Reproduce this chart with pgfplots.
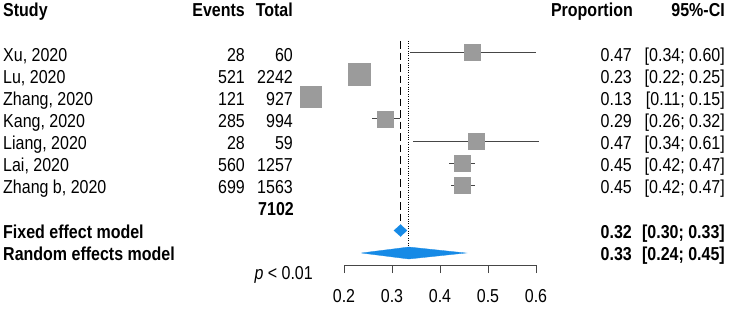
\documentclass[border=0pt]{standalone}
\usepackage{fontspec}
\setmainfont{Liberation Sans}
\usepackage{graphicx}
\usepackage{pgfplots}
\pgfplotsset{compat=1.18}
\usepackage{pgfplotstable}
\definecolor{sqgray}{RGB}{155,155,155}
\definecolor{cigray}{RGB}{70,70,70}
\definecolor{diamblue}{RGB}{22,138,230}
\newcommand\fs{\fontsize{16}{19}\selectfont}
\newcommand\st[1]{\scalebox{1}[1.17]{#1}}
\newcommand\txt[4]{\node[inner sep=0pt, anchor=base #1, font=\fs] at (#2pt,{(300.3-#3)*1pt}) {\st{#4}};}

% study: proportion, CI low, CI high, y (row), square half-size
\pgfplotstableread{
p      lo     hi     y      s
0.4667 0.337  0.599  256.5  8
0.2324 0.215  0.250  234.4  11
0.1305 0.109  0.153  212.3  10.5
0.2867 0.259  0.316  190.2  8
0.4746 0.343  0.607  168.1  8
0.4455 0.418  0.473  146.0  8
0.4472 0.422  0.472  123.9  8
}\studies

\begin{document}
\begin{tikzpicture}
\useasboundingbox (0,0) rectangle (731pt,309pt);
\begin{axis}[
  at={(344pt,44pt)}, anchor=south west,
  scale only axis, width=192pt, height=265pt,
  xmin=0.2, xmax=0.6, ymin=44, ymax=309,
  clip=false,
  hide y axis,
  axis x line*=bottom,
  axis line style={cigray, line width=0.8pt},
  xtick={0.2,0.3,0.4,0.5,0.6},
  xticklabels={\st{0.2},\st{0.3},\st{0.4},\st{0.5},\st{0.6}},
  tick align=outside,
  major tick length=8pt,
  tick style={cigray, line width=0.8pt},
  xticklabel style={font=\fs, yshift=-12.5pt},
  /pgf/number format/assume math mode=true,
]
% reference lines
\addplot[black, line width=1pt, dash pattern=on 7.5pt off 4pt] coordinates {(0.318,268) (0.318,85)};
\addplot[black, line width=0.9pt, dash pattern=on 1pt off 1.4pt] coordinates {(0.335,268) (0.335,55.5)};
% confidence intervals
\addplot[only marks, mark=none,
  error bars/.cd, x dir=both, x explicit, error mark=none,
  error bar style={cigray, line width=0.8pt, solid}]
  table[x=p, y=y, x error minus expr=\thisrow{p}-\thisrow{lo}, x error plus expr=\thisrow{hi}-\thisrow{p}] {\studies};
% squares
\addplot[scatter, only marks, mark=square*,
  scatter/use mapped color={draw=sqgray, fill=sqgray},
  visualization depends on={\thisrow{s} \as \ms},
  scatter/@pre marker code/.append style={/tikz/mark size=\ms}]
  table[x=p, y=y] {\studies};
% fixed effect diamond
\addplot[fill=diamblue, draw=diamblue, line width=0.3pt] coordinates {(0.304,78.5) (0.318,84.5) (0.331,78.5) (0.318,72.5) (0.304,78.5)};
% random effects diamond
\addplot[fill=diamblue, draw=diamblue, line width=0.3pt] coordinates {(0.236,56) (0.335,62) (0.454,56) (0.335,50) (0.236,56)};
\end{axis}

% header
\txt{west}{3}{8}{\bfseries Study}
\txt{east}{245}{8}{\bfseries Events}
\txt{east}{293}{8}{\bfseries Total}
\txt{east}{633}{8}{\bfseries Proportion}
\txt{east}{725}{8}{\bfseries 95\%-CI}
% rows
\txt{west}{3}{52.5}{Xu, 2020}
\txt{west}{3}{74.6}{Lu, 2020}
\txt{west}{3}{96.7}{Zhang, 2020}
\txt{west}{3}{118.8}{Kang, 2020}
\txt{west}{3}{140.9}{Liang, 2020}
\txt{west}{3}{163.0}{Lai, 2020}
\txt{west}{3}{185.1}{Zhang b, 2020}
\txt{east}{245}{52.5}{28}
\txt{east}{245}{74.6}{521}
\txt{east}{245}{96.7}{121}
\txt{east}{245}{118.8}{285}
\txt{east}{245}{140.9}{28}
\txt{east}{245}{163.0}{560}
\txt{east}{245}{185.1}{699}
\txt{east}{293}{52.5}{60}
\txt{east}{293}{74.6}{2242}
\txt{east}{293}{96.7}{927}
\txt{east}{293}{118.8}{994}
\txt{east}{293}{140.9}{59}
\txt{east}{293}{163.0}{1257}
\txt{east}{293}{185.1}{1563}
\txt{east}{294}{207.2}{\bfseries 7102}
\txt{east}{632}{52.5}{0.47}
\txt{east}{632}{74.6}{0.23}
\txt{east}{632}{96.7}{0.13}
\txt{east}{632}{118.8}{0.29}
\txt{east}{632}{140.9}{0.47}
\txt{east}{632}{163.0}{0.45}
\txt{east}{632}{185.1}{0.45}
\txt{east}{725}{52.5}{[0.34; 0.60]}
\txt{east}{725}{74.6}{[0.22; 0.25]}
\txt{east}{725}{96.7}{[0.11; 0.15]}
\txt{east}{725}{118.8}{[0.26; 0.32]}
\txt{east}{725}{140.9}{[0.34; 0.61]}
\txt{east}{725}{163.0}{[0.42; 0.47]}
\txt{east}{725}{185.1}{[0.42; 0.47]}
% summaries
\txt{west}{3}{229.5}{\bfseries Fixed effect model}
\txt{west}{3}{251.5}{\bfseries Random effects model}
\txt{east}{632}{229.5}{\bfseries 0.32}
\txt{east}{725}{229.5}{\bfseries [0.30; 0.33]}
\txt{east}{632}{251.5}{\bfseries 0.33}
\txt{east}{725}{251.5}{\bfseries [0.24; 0.45]}
\txt{east}{313}{271}{\itshape p\upshape{} < 0.01}
\end{tikzpicture}
\end{document}
